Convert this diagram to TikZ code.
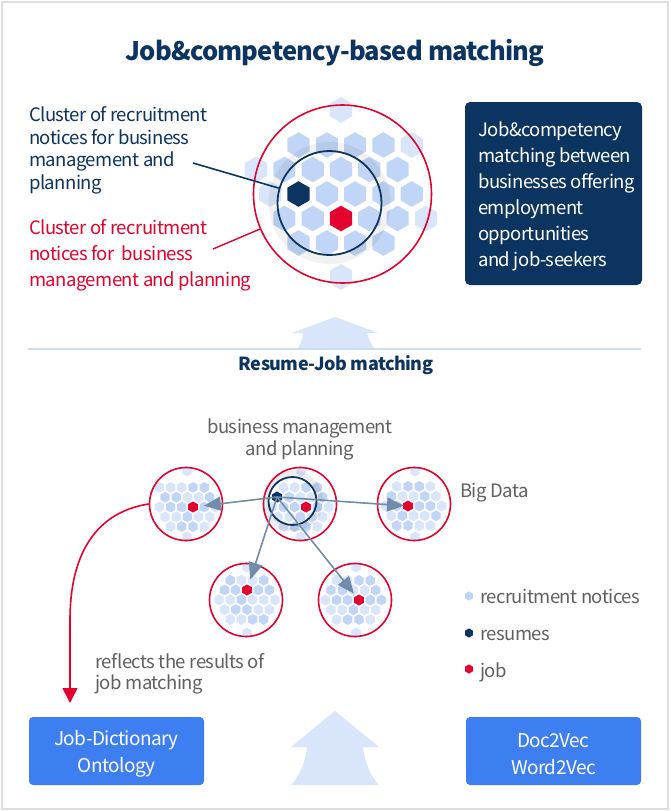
\documentclass[tikz,border=0pt]{standalone}
\usepackage{fontspec}
\setmainfont{Noto Sans CJK KR}[LetterSpace=-3]
\usetikzlibrary{arrows.meta}
\definecolor{navy}{RGB}{12,52,96}
\definecolor{jred}{RGB}{228,3,46}
\definecolor{hexA}{RGB}{193,213,246}
\definecolor{hexB}{RGB}{216,229,251}
\definecolor{boxblue}{RGB}{61,127,240}
\definecolor{gtext}{RGB}{96,96,96}
\definecolor{garrow}{RGB}{112,140,170}
\definecolor{lightarrow}{RGB}{216,229,250}
\definecolor{sepline}{RGB}{205,220,245}
\definecolor{framegrey}{RGB}{222,222,222}
\newcommand{\fs}[2]{\fontsize{#1}{#2}\selectfont}
\newcommand{\hexat}[4]{\fill[#4] (#1,#2) +(90:#3) -- +(150:#3) -- +(210:#3) -- +(270:#3) -- +(330:#3) -- +(30:#3) -- cycle;}
\newcommand{\hexon}[3]{\fill[#3] (#1) +(90:#2) -- +(150:#2) -- +(210:#2) -- +(270:#2) -- +(330:#2) -- +(30:#2) -- cycle;}
\newcommand{\smallcluster}[4]{%
  \foreach \j in {-3,...,3}{
    \foreach \i in {-5,...,5}{
      \pgfmathsetmacro{\hx}{#3+\i*11.2+mod(abs(\j),2)*5.6}
      \pgfmathsetmacro{\hy}{#4+\j*9.8}
      \pgfmathsetmacro{\dd}{veclen(\hx-#1,\hy-#2)}
      \pgfmathsetmacro{\dy}{abs(\hy-#2)}
      \pgfmathsetmacro{\sh}{mod(abs(\i*3+\j*5),4)}
      \ifdim\dd pt<32pt
        \ifdim\dy pt<25pt
          \ifdim\sh pt<1.5pt \def\hc{hexB}\else\def\hc{hexA}\fi
          \ifdim\dd pt>28pt \def\hc{hexB}\fi
          \hexat{\hx}{\hy}{5.4}{\hc}
        \fi
      \fi
    }
  }
  \hexat{#1+1}{#2-33}{5.4}{hexB}
  \hexat{#1+1}{#2+33}{5.4}{hexB}
}
\tikzset{
  txt/.style={inner sep=0pt, align=left, anchor=north west},
  redring/.style={circle, draw=jred, line width=1.6pt, inner sep=0pt, minimum size=73pt},
  navyring/.style={circle, draw=navy, line width=1.8pt, inner sep=0pt},
  garr/.style={draw=garrow, line width=1.6pt, -{Triangle[length=17pt,width=14pt]}},
  bluebox/.style={fill=boxblue, rounded corners=4pt, minimum width=175pt, minimum height=68pt, inner sep=0pt},
  bluetext/.style={inner sep=0pt, align=center, text=white, font={\fs{19}{27}}},
  legtext/.style={inner sep=0pt, anchor=base west, text=gtext, font={\fs{18.5}{22}}},
  shadowring/.style={draw=black, opacity=0.05, line width=2pt}
}
\begin{document}
\begin{tikzpicture}[x=1pt,y=-1pt]
\useasboundingbox (0,0) rectangle (670,811);
\fill[white] (0,0) rectangle (670,811);
\draw[framegrey, line width=2pt] (2,2) rectangle (668,809);

% title
\node[inner sep=0pt, anchor=base, text=navy, font={\fs{25.5}{30}\bfseries}] (title) at (335,60) {Job\&competency-based matching};

% top cluster
\foreach \x/\y/\hc in {341/110/hexB,
  298.5/145/hexA, 326.85/145/hexA, 355.15/145/hexA, 383.45/145/hexA, 411.75/145/hexB,
  256/169.5/hexB, 284.4/169.5/hexA, 312.7/169.5/hexA, 341/169.5/hexA, 369.3/169.5/hexA, 397.6/169.5/hexA,
  270.2/194/hexB, 326.85/194/hexA, 355.15/194/hexA, 383.45/194/hexA, 411.75/194/hexA,
  284.4/218.5/hexA, 312.7/218.5/hexA, 369.3/218.5/hexA, 397.6/218.5/hexA, 425.9/218.5/hexB,
  298.5/243/hexA, 326.85/243/hexA, 355.15/243/hexA, 383.45/243/hexA,
  341/277/hexB}{\hexat{\x}{\y}{12.8}{\hc}}
\coordinate (topnavy) at (298.5,194);
\coordinate (topred) at (341,218.5);
\hexon{topnavy}{12.8}{navy}
\hexon{topred}{12.8}{jred}
\foreach \r in {54,56,58,60}{\draw[shadowring] (329.5,203) circle[radius=\r];}
\node[navyring, minimum size=104pt] (inner) at (329.5,203) {};
\node[circle, draw=jred, line width=1.6pt, inner sep=0pt, minimum size=178pt] (outer) at (342.5,194) {};

% left labels
\node[txt, text=navy, font={\fs{18.5}{22.5}}] (navytxt) at (29,106.5) {Cluster of recruitment\\notices for business\\management and\\planning};
\node[txt, text=jred, font={\fs{18.5}{26}}] (redtxt) at (29,219.5) {Cluster of recruitment\\notices for\ \ business\\management and planning};
\coordinate (navyend) at (193,163);
\coordinate (redend) at (213,249);
\draw[navy, line width=1.6pt] (navyend) -- (inner);
\draw[jred, line width=1.4pt] (redend) -- (outer);

% right box
\node[fill=navy, rounded corners=5pt, minimum width=177pt, minimum height=183pt, inner sep=0pt] (matchbox) at (553.5,193.5) {};
\node[txt, text=white, font={\fs{18.5}{26}}] (matchtxt) at (478,121.5) {Job\&competency\\matching between\\businesses offering\\employment\\opportunities\\and job-seekers};

% upper arrow and separator
\fill[lightarrow] (335,317) -- (378,333) -- (367,333) .. controls (369,341) and (372,346) .. (375,349) -- (297,349) .. controls (300,346) and (302,341) .. (303,333) -- (292,333) -- cycle;
\coordinate (sepL) at (28,349);
\coordinate (sepR) at (641,349);
\draw[sepline, line width=1.6pt] (sepL) -- (sepR);
\node[inner sep=0pt, anchor=base, text=navy, font={\fs{18}{22}\bfseries}] (rjm) at (336,370) {Resume-Job matching};

% bottom labels
\node[inner sep=0pt, align=center, anchor=north, text=gtext, font={\fs{18.5}{22}}] (bmp) at (300,418.5) {business management\\and planning};
\node[legtext] (bigdata) at (460,497) {Big Data};

% small clusters
\smallcluster{186}{504}{193}{507}
\smallcluster{300}{504}{306}{507}
\smallcluster{414}{504}{408}{506}
\smallcluster{246}{600}{247}{590}
\smallcluster{355}{600}{359}{600}

\coordinate (rA) at (193,507);
\coordinate (rB) at (306,507);
\coordinate (rC) at (408,506);
\coordinate (rD) at (247,590);
\coordinate (rE) at (359,600);
\coordinate (dB) at (277,497);
\foreach \p in {rA,rB,rC,rD,rE}{\hexon{\p}{5.5}{jred}}

\foreach \r in {25.5,27,28.5,30}{\draw[shadowring] (292.5,501) circle[radius=\r];}
\node[navyring, minimum size=48pt] (innerB) at (292.5,501) {};
\hexon{dB}{5.5}{navy}

\node[redring] (cA) at (186,504) {};
\node[redring] (cB) at (300,504) {};
\node[redring] (cC) at (414,504) {};
\node[redring] (cD) at (246,600) {};
\node[redring] (cE) at (355,600) {};

\draw[garr, shorten >=11pt] (dB) -- (rA);
\draw[garr, shorten >=4pt] (dB) -- (rC);
\draw[garr, shorten >=11pt] (dB) -- (rD);
\draw[garr, shorten >=8pt] (dB) -- (rE);

% red feedback arrow
\coordinate (fbtip) at (70,703);
\draw[jred, line width=1.6pt, -{Triangle[length=15pt,width=15pt]}] (cA.west) .. controls (103,511) and (70,545) .. (70,620) -- (fbtip);
\node[txt, text=gtext, font={\fs{18.5}{21}}] (reflect) at (95,653.5) {reflects the results of\\job matching};

% legend
\coordinate (lgA) at (469,596);
\coordinate (lgB) at (469,633);
\coordinate (lgC) at (469,669);
\hexon{lgA}{4.6}{hexA}
\hexon{lgB}{4.6}{navy}
\hexon{lgC}{4.6}{jred}
\node[legtext] (lg1) at (480,603) {recruitment notices};
\node[legtext] (lg2) at (480,640) {resumes};
\node[legtext] (lg3) at (480,677) {job};

% bottom arrow
\fill[lightarrow] (335,711) -- (379,747) -- (363,747) .. controls (365,765) and (372,778) .. (379,785) -- (291,785) .. controls (298,778) and (305,765) .. (307,747) -- (291,747) -- cycle;

% bottom boxes
\node[bluebox] (ontology) at (116.5,751) {};
\node[bluetext] (ontologytxt) at (116.5,754) {Job-Dictionary\\Ontology};
\node[bluebox] (vec) at (553.5,751) {};
\node[bluetext] (vectxt) at (553.5,754) {Doc2Vec\\Word2Vec};
\end{tikzpicture}
\end{document}
